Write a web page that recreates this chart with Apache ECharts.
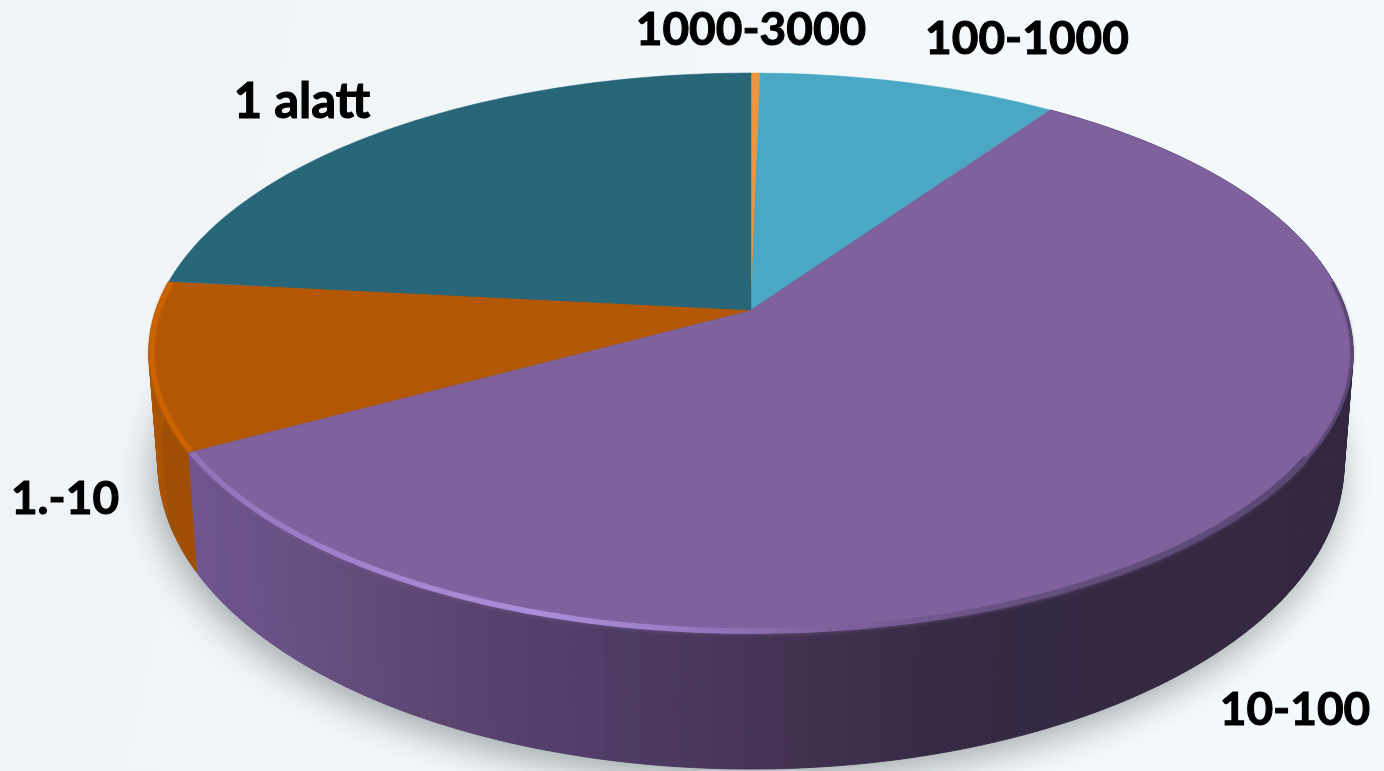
<!DOCTYPE html>
<html><head><meta charset="utf-8">
<style>html,body{margin:0;padding:0;background:#f2f6f8}#c{width:1384px;height:771px}</style>
<script src="https://cdn.jsdelivr.net/npm/echarts@6/dist/echarts.min.js"></script>
</head><body><div id="c"></div>
<script>
// Data, clockwise from 12 o'clock
const categories = ['1000-3000', '100-1000', '10-100', '1.-10', '1 alatt'];
const values = [0.28, 9.3, 57.4, 9.7, 23.3];

// Styles
const topColors = ['#F0953F', '#4BA8C4', '#7F619E', '#B35705', '#28677A'];
const labelAnchors = [[751, 30], [1027, 39], [1295, 710], [65, 499], [302, 102]];
const labelSizes = [46, 46, 46, 46, 49];

// Perspective model of the disc
const geo = {cx: 751, cy: 310, a: 273.4, b: 595, p: -0.1536, by: 417, ba: 298, bb: 586};
const total = values.reduce((s, v) => s + v, 0);
const deg = Math.PI / 180;
function startAngle(i) {
  let s = 0;
  for (let k = 0; k < i; k++) s += values[k];
  return s / total * Math.PI * 2;
}
function topPt(t, r) {
  const u = r * Math.sin(t), v = -r * Math.cos(t), w = 1 + geo.p * v;
  return [geo.cx + geo.b * u / w, geo.cy + geo.a * v / w];
}
function botPt(t) {
  const u = Math.sin(t), v = -Math.cos(t), w = 1 + geo.p * v;
  return [geo.cx + geo.bb * u / w, geo.by + geo.ba * v / w];
}
const purpleWall = [[190, '#70558F'], [300, '#685084'], [450, '#5C4570'], [600, '#503D68'], [800, '#433252'], [950, '#362A44'], [1400, '#33283F']];
function wallColor(i, x) {
  if (i === 3) return x < 165 ? '#A85405' : '#A04F05';
  if (i !== 2) return '#222';
  for (let k = 1; k < purpleWall.length; k++) {
    if (x <= purpleWall[k][0]) {
      const t = (x - purpleWall[k - 1][0]) / (purpleWall[k][0] - purpleWall[k - 1][0]);
      return echarts.color.lerp(Math.max(0, t), [purpleWall[k - 1][1], purpleWall[k][1]]);
    }
  }
  return purpleWall[purpleWall.length - 1][1];
}
function arc(t0, t1, f) {
  const n = Math.max(2, Math.ceil((t1 - t0) / deg));
  const pts = [];
  for (let k = 0; k <= n; k++) pts.push(f(t0 + (t1 - t0) * k / n));
  return pts;
}

function renderShadow() {
  return {type: 'polygon', silent: true,
    shape: {points: arc(0, Math.PI * 2, botPt)},
    style: {fill: '#4a4f52', shadowColor: 'rgba(40,50,55,0.38)', shadowBlur: 34, shadowOffsetY: 12, shadowOffsetX: -4}};
}
function renderWall(params, api) {
  const i = params.dataIndex;
  const t0 = startAngle(i), t1 = t0 + api.value(0) / total * Math.PI * 2;
  if (i !== 2 && i !== 3) return {type: 'group', children: []};
  const n = Math.max(1, Math.ceil((t1 - t0) / deg));
  const children = [];
  for (let k = 0; k < n; k++) {
    const a = t0 + (t1 - t0) * k / n, b = t0 + (t1 - t0) * (k + 1) / n;
    const A = topPt(a, 1), B = topPt(b, 1), C = botPt(b), D = botPt(a);
    const c = wallColor(i, (A[0] + D[0]) / 2);
    children.push({type: 'polygon', shape: {points: [A, B, C, D]}, style: {fill: c, stroke: c, lineWidth: 0.8}});
  }
  return {type: 'group', children};
}
function renderTop(params, api) {
  const i = params.dataIndex;
  const t0 = startAngle(i), t1 = t0 + api.value(0) / total * Math.PI * 2;
  const rim = arc(t0, t1, t => topPt(t, 1));
  const children = [{type: 'polygon', shape: {points: [[geo.cx, geo.cy]].concat(rim)}, style: {fill: topColors[i], stroke: topColors[i], lineWidth: 0.5}}];
  if (i === 2) {
    // dark edge where the right side of the disc meets the wall
    children.push({type: 'polyline', shape: {points: arc(84 * deg, 150 * deg, t => topPt(t, 0.998))},
      style: {fill: null, stroke: '#5A4672', lineWidth: 2.5, shadowBlur: 3, shadowColor: 'rgba(70,54,90,0.6)'}});
    // bright bevel along the front of the disc
    children.push({type: 'polyline', shape: {points: arc(120 * deg, t1 - 0.004, t => topPt(t, 0.995))},
      style: {fill: null, lineWidth: 5.5, shadowBlur: 4, shadowColor: 'rgba(127,97,158,0.7)',
        stroke: new echarts.graphic.LinearGradient(190, 0, 1350, 0, [
          {offset: 0, color: '#8F72B8'}, {offset: 0.15, color: '#A283CC'}, {offset: 0.3, color: '#AB8EDA'},
          {offset: 0.42, color: '#9A7BC5'}, {offset: 0.55, color: '#7F619E'}, {offset: 0.72, color: '#65507F'}, {offset: 1, color: '#5A4672'}
        ], true)}});
  } else if (i === 3) {
    children.push({type: 'polyline', shape: {points: arc(t0 + 0.004, t1 - 0.004, t => topPt(t, 0.995))},
      style: {fill: null, stroke: '#CC6200', lineWidth: 5, shadowBlur: 3, shadowColor: '#C05C02'}});
  }
  return {type: 'group', children};
}
function renderLabel(params) {
  const i = params.dataIndex;
  return {type: 'text', x: labelAnchors[i][0], y: labelAnchors[i][1],
    style: {text: categories[i], fill: '#000', stroke: '#000', lineWidth: 1.1,
      font: 'bold ' + labelSizes[i] + 'px Lato, "Open Sans", sans-serif', align: 'center', verticalAlign: 'middle'}};
}

const chart = echarts.init(document.getElementById('c'), null, {renderer: 'canvas'});
const seriesData = values.map((v, i) => ({name: categories[i], value: [v]}));
chart.setOption({
  animation: false,
  backgroundColor: new echarts.graphic.LinearGradient(0, 0, 1, 0.4, [
    {offset: 0, color: '#EFF3F5'}, {offset: 0.5, color: '#F2F7F9'}, {offset: 1, color: '#F4F9FB'}
  ]),
  tooltip: {show: false},
  series: [
    {type: 'custom', coordinateSystem: 'none', data: [[total]], renderItem: renderShadow, silent: true, z: 1},
    {type: 'custom', coordinateSystem: 'none', data: seriesData, renderItem: renderWall, silent: true, z: 2},
    {type: 'custom', coordinateSystem: 'none', data: seriesData, renderItem: renderTop, silent: true, z: 3},
    {type: 'custom', coordinateSystem: 'none', data: seriesData, renderItem: renderLabel, silent: true, z: 4}
  ]
});
</script></body></html>
